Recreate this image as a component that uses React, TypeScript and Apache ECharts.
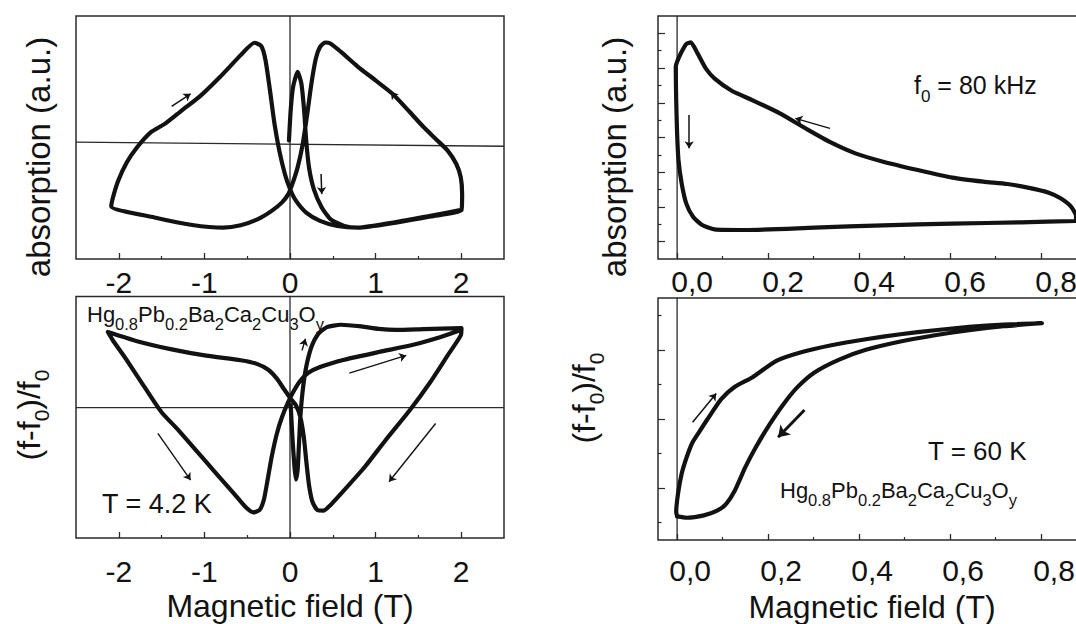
import React, { useEffect, useRef } from 'react';
import * as echarts from 'echarts';

const FONT = '"Liberation Sans", Arial, Helvetica, sans-serif';
const INK = '#121212';
const FRAME = '#2a2a2a';

// ---------- tick values ----------
const wideTicks = [-2, -1, 0, 1, 2];
const wideMinor = [-1.5, -0.5, 0.5, 1.5];
const narrowTicks = [0, 0.2, 0.4, 0.6, 0.8];
const narrowMinor = [0.1, 0.3, 0.5, 0.7, 0.9];
const trYTicks = [0, 1, 2, 3, 4, 5, 6];
const trYMinor = [0.5, 1.5, 2.5, 3.5, 4.5, 5.5];
const brYTicks = [0, 1, 2];
const brYMinor = [-0.5, 0.5, 1.5, 2.5];

// ---------- top-left: absorption (a.u.) vs field (T), T = 4.2 K ----------
const tlLoop: number[][] = [
  [-0.012, 48.8], [0.008, 61.2], [0.036, 70.8], [0.089, 77.0], [0.133, 72.2], [0.165, 61.2],
  [0.189, 48.8], [0.222, 37.7], [0.278, 28.8], [0.371, 21.2], [0.472, 16.4], [0.633, 13.6],
  [0.794, 12.9], [1.237, 15.0], [1.640, 17.5], [2.003, 20.1],
  [2.011, 26.7], [1.995, 33.6], [1.943, 39.1], [1.842, 44.6],
  [1.721, 48.8], [1.560, 54.3], [1.399, 60.5], [1.197, 68.0], [0.996, 73.6], [0.794, 79.1],
  [0.593, 85.3], [0.472, 88.7], [0.411, 89.1],
  [0.351, 87.3], [0.302, 82.5], [0.250, 72.2], [0.202, 59.8], [0.149, 47.4], [0.089, 37.7],
  [0.028, 30.9], [-0.020, 26.7], [-0.093, 23.3], [-0.214, 19.8], [-0.375, 16.4], [-0.576, 13.9],
  [-0.778, 12.9], [-1.141, 14.0], [-1.584, 17.1], [-2.088, 21.6],
  [-2.068, 25.3], [-2.007, 32.2], [-1.906, 39.8], [-1.786, 46.0], [-1.624, 52.2], [-1.463, 55.6],
  [-1.262, 61.2], [-1.060, 66.7], [-0.818, 74.9], [-0.576, 83.9], [-0.415, 89.0],
  [-0.335, 87.6], [-0.286, 81.8], [-0.234, 69.4], [-0.181, 55.6], [-0.125, 44.6], [-0.060, 35.0],
  [0.0, 28.8], [0.069, 24.0], [0.189, 19.1], [0.351, 15.7], [0.552, 13.6], [0.794, 12.9],
  [1.237, 15.2], [1.640, 17.8], [2.003, 20.2],
];
const tlZeroH: number[][] = [[-2.5, 48.1], [2.5, 46.4]];
const tlZeroV: number[][] = [[0, 0], [0, 100]];
const tlArrows: number[][][] = [
  [[-1.383, 62.8], [-1.161, 68.0]],
  [[1.318, 63.2], [1.177, 68.7]],
  [[0.363, 35.0], [0.371, 26.7]],
];

// ---------- bottom-left: (f-f0)/f0 vs field (T), T = 4.2 K ----------
const blLoop: number[][] = [
  [0.008, 55.0], [0.028, 41.9], [0.052, 29.5], [0.069, 24.2], [0.089, 28.1], [0.105, 39.1],
  [0.121, 50.1], [0.149, 61.2], [0.189, 70.8], [0.250, 79.1], [0.331, 84.6], [0.431, 87.3],
  [0.593, 88.3], [0.834, 87.6], [1.036, 86.6], [1.237, 86.2], [1.560, 86.5], [2.003, 86.9],
  [1.995, 83.9], [1.842, 75.6], [1.640, 64.6], [1.399, 52.9], [1.116, 40.5], [0.875, 29.5],
  [0.633, 19.8], [0.472, 13.6], [0.391, 11.3],
  [0.318, 11.6], [0.262, 15.0], [0.222, 21.9], [0.189, 32.2], [0.161, 41.9], [0.121, 50.1],
  [0.069, 55.0], [0.008, 57.7], [-0.073, 61.8], [-0.153, 66.0], [-0.254, 69.7], [-0.395, 72.2],
  [-0.576, 73.6], [-0.979, 75.5], [-1.382, 78.1], [-1.786, 81.5], [-2.128, 85.3],
  [-2.068, 81.8], [-1.906, 73.6], [-1.705, 62.8], [-1.503, 52.2], [-1.302, 44.6], [-1.100, 36.4],
  [-0.879, 27.4], [-0.657, 18.5], [-0.516, 12.7], [-0.427, 10.6],
  [-0.355, 11.6], [-0.306, 15.7], [-0.262, 24.0], [-0.214, 33.6], [-0.153, 43.3], [-0.093, 50.1],
  [-0.032, 55.4], [0.028, 59.8], [0.109, 64.6], [0.210, 68.3], [0.351, 70.8], [0.633, 73.8],
  [1.036, 77.0], [1.439, 80.0], [1.761, 83.2], [2.003, 86.2],
];
const blZeroH: number[][] = [[-2.5, 54.0], [2.5, 54.0]];
const blZeroV: number[][] = [[0, 0], [0, 100]];
const blArrows: number[][][] = [
  [[0.141, 77.7], [0.181, 82.5]],
  [[0.693, 68.3], [1.358, 75.6]],
  [[1.701, 47.4], [1.157, 23.3]],
  [[-1.544, 43.3], [-1.161, 24.0]],
];

// ---------- top-right: absorption (a.u.) vs field (T), f0 = 80 kHz ----------
const trLoop: number[][] = [
  [0.877, 0.595], [0.877, 0.739], [0.866, 1.008], [0.843, 1.248], [0.817, 1.411], [0.771, 1.555],
  [0.726, 1.660], [0.673, 1.727], [0.605, 1.843], [0.529, 2.063], [0.453, 2.303], [0.392, 2.543],
  [0.339, 2.850], [0.286, 3.234], [0.226, 3.695], [0.165, 4.079], [0.120, 4.347], [0.082, 4.702],
  [0.063, 4.990], [0.045, 5.422], [0.030, 5.739], [0.020, 5.691], [0.008, 5.422], [0.000, 5.182],
  [-0.003, 5.038], [-0.002, 4.079], [0.0, 3.119], [0.003, 2.351], [0.010, 1.679], [0.020, 1.104],
  [0.035, 0.720], [0.055, 0.480], [0.082, 0.355], [0.150, 0.336], [0.302, 0.403], [0.453, 0.470],
  [0.605, 0.518], [0.756, 0.557], [0.877, 0.595],
];
const trZeroV: number[][] = [[0, -0.5], [0, 6.5]];
const trArrows: number[][][] = [
  [[0.336, 3.263], [0.260, 3.551]],
  [[0.0265, 3.647], [0.0265, 2.687]],
];

// ---------- bottom-right: (f-f0)/f0 vs field (T), T = 60 K ----------
const brLoop: number[][] = [
  [0.0, -0.409], [-0.002, -0.346], [0.002, -0.082], [0.010, 0.207], [0.021, 0.447], [0.034, 0.663],
  [0.048, 0.808], [0.067, 1.0], [0.097, 1.288], [0.127, 1.466], [0.165, 1.601], [0.218, 1.841],
  [0.271, 1.962], [0.339, 2.067], [0.415, 2.154], [0.491, 2.226], [0.567, 2.284], [0.642, 2.332],
  [0.718, 2.365], [0.802, 2.385],
  [0.718, 2.341], [0.642, 2.284], [0.567, 2.212], [0.491, 2.120], [0.415, 2.0], [0.355, 1.856],
  [0.302, 1.673], [0.264, 1.457], [0.233, 1.207], [0.203, 0.918], [0.173, 0.591], [0.150, 0.303],
  [0.127, -0.034], [0.108, -0.226], [0.089, -0.322], [0.059, -0.394], [0.021, -0.428], [0.0, -0.409],
];
const brZeroV: number[][] = [[0, -0.75], [0, 2.75]];
const brArrowThin: number[][][] = [[[0.034, 0.952], [0.086, 1.370]]];
const brArrowBold: number[][][] = [[[0.280, 1.130], [0.222, 0.736]]];

const formula =
  '{m|Hg}{s|0.8}{m|Pb}{s|0.2}{m|Ba}{s|2}{m|Ca}{s|2}{m|Cu}{s|3}{m|O}{s|y}';

// main tokens hang from the line top, subscripts sit on the (taller) line bottom
function richSub(main: number, sub: number, lineH: number) {
  return {
    m: { fontSize: main, fontFamily: FONT, fill: INK, verticalAlign: 'top' },
    s: { fontSize: sub, lineHeight: lineH, fontFamily: FONT, fill: INK, verticalAlign: 'bottom' },
  };
}

function xMain(grid: number, min: number, max: number, ticks: number[], margin: number, comma: boolean, shift: number) {
  return {
    gridIndex: grid, type: 'value', min, max, position: 'bottom',
    axisLine: { show: false, onZero: false }, splitLine: { show: false },
    axisTick: { show: true, inside: true, length: 6, customValues: ticks, lineStyle: { color: FRAME, width: 1.3 } },
    axisLabel: {
      show: true, customValues: ticks, margin, color: INK, fontSize: 30, fontFamily: FONT, lineHeight: 30,
      padding: [0, 0, 0, shift],
      formatter: (v: number) => (comma ? v.toFixed(1).replace('.', ',') : String(v)),
    },
  };
}
function xMinor(grid: number, min: number, max: number, ticks: number[]) {
  return {
    gridIndex: grid, type: 'value', min, max, position: 'bottom',
    axisLine: { show: false, onZero: false }, splitLine: { show: false }, axisLabel: { show: false },
    axisTick: { show: true, inside: true, length: 3, customValues: ticks, lineStyle: { color: FRAME, width: 1.2 } },
  };
}
function yPlain(grid: number, min: number, max: number) {
  return {
    gridIndex: grid, type: 'value', min, max, position: 'left',
    axisLine: { show: false, onZero: false }, splitLine: { show: false }, axisLabel: { show: false }, axisTick: { show: false },
  };
}
function yTicks(grid: number, min: number, max: number, ticks: number[], len: number) {
  return {
    gridIndex: grid, type: 'value', min, max, position: 'left',
    axisLine: { show: false, onZero: false }, splitLine: { show: false }, axisLabel: { show: false },
    axisTick: { show: true, inside: true, length: len, customValues: ticks, lineStyle: { color: FRAME, width: 1.2 } },
  };
}

function curve(xi: number, yi: number, data: number[][]) {
  return {
    type: 'line', xAxisIndex: xi, yAxisIndex: yi, data, showSymbol: false, symbol: 'none',
    smooth: 0.2, lineStyle: { color: INK, width: 4.2, join: 'round', cap: 'round' }, z: 3,
  };
}
function refLine(xi: number, yi: number, data: number[][]) {
  return {
    type: 'line', xAxisIndex: xi, yAxisIndex: yi, data, showSymbol: false, symbol: 'none',
    lineStyle: { color: FRAME, width: 1.3 }, z: 2,
  };
}
function arrows(xi: number, yi: number, list: number[][][], width: number, size: number) {
  return {
    type: 'lines', coordinateSystem: 'cartesian2d', xAxisIndex: xi, yAxisIndex: yi,
    symbol: ['none', 'arrow'], symbolSize: size,
    lineStyle: { color: INK, width, opacity: 1, curveness: 0 },
    itemStyle: { color: INK },
    data: list.map((c) => ({ coords: c })), z: 4,
  };
}

export default function App() {
  const ref = useRef<HTMLDivElement>(null);
  useEffect(() => {
    if (!ref.current) return;
    const chart = echarts.init(ref.current, null, { renderer: 'svg' });
    const gridStyle = { show: true, borderColor: FRAME, borderWidth: 1.5, backgroundColor: 'transparent' };
    const option: any = {
      animation: false,
      backgroundColor: '#ffffff',
      grid: [
        { left: 76, top: 16, width: 428, height: 243, ...gridStyle },
        { left: 76, top: 296.5, width: 428, height: 241.5, ...gridStyle },
        { left: 658, top: 16, width: 474, height: 243, ...gridStyle },
        { left: 658, top: 298, width: 474, height: 242, ...gridStyle },
      ],
      xAxis: [
        xMain(0, -2.5, 2.5, wideTicks, 8, false, 0),
        xMinor(0, -2.5, 2.5, wideMinor),
        xMain(1, -2.5, 2.5, wideTicks, 18, false, 0),
        xMinor(1, -2.5, 2.5, wideMinor),
        xMain(2, -0.042, 1.0, narrowTicks, 7, true, 30),
        xMinor(2, -0.042, 1.0, narrowMinor),
        xMain(3, -0.042, 1.0, narrowTicks, 15, true, 26),
        xMinor(3, -0.042, 1.0, narrowMinor),
      ],
      yAxis: [
        yPlain(0, 0, 100),
        yPlain(1, 0, 100),
        yTicks(2, -0.5, 6.5, trYTicks, 7),
        yTicks(2, -0.5, 6.5, trYMinor, 3.5),
        yTicks(3, -0.75, 2.75, brYTicks, 7),
        yTicks(3, -0.75, 2.75, brYMinor, 3.5),
      ],
      series: [
        refLine(0, 0, tlZeroV), refLine(0, 0, tlZeroH), curve(0, 0, tlLoop), arrows(0, 0, tlArrows, 1.5, 7),
        refLine(2, 1, blZeroV), refLine(2, 1, blZeroH), curve(2, 1, blLoop), arrows(2, 1, blArrows, 1.4, 7),
        refLine(4, 2, trZeroV), curve(4, 2, trLoop), arrows(4, 2, trArrows, 1.5, 7),
        refLine(6, 4, brZeroV), curve(6, 4, brLoop), arrows(6, 4, brArrowThin, 1.5, 7), arrows(6, 4, brArrowBold, 3, 11),
      ],
      graphic: [
        { type: 'text', x: 38, y: 157, rotation: Math.PI / 2,
          style: { text: 'absorption (a.u.)', fontSize: 33, fontFamily: FONT, fill: INK, align: 'center', verticalAlign: 'middle' } },
        { type: 'text', x: 614, y: 157, rotation: Math.PI / 2,
          style: { text: 'absorption (a.u.)', fontSize: 33, fontFamily: FONT, fill: INK, align: 'center', verticalAlign: 'middle' } },
        { type: 'text', x: 13, y: 415, rotation: Math.PI / 2,
          style: { text: '{m|(f-f}{s|0}{m|)/f}{s|0}', rich: richSub(32, 21, 39), fontFamily: FONT, fill: INK, align: 'center', verticalAlign: 'top' } },
        { type: 'text', x: 568, y: 398, rotation: Math.PI / 2,
          style: { text: '{m|(f-f}{s|0}{m|)/f}{s|0}', rich: richSub(32, 21, 39), fontFamily: FONT, fill: INK, align: 'center', verticalAlign: 'top' } },
        { type: 'text', x: 290, y: 606,
          style: { text: 'Magnetic field (T)', fontSize: 32, fontFamily: FONT, fill: INK, align: 'center', verticalAlign: 'middle' } },
        { type: 'text', x: 872, y: 607,
          style: { text: 'Magnetic field (T)', fontSize: 32, fontFamily: FONT, fill: INK, align: 'center', verticalAlign: 'middle' } },
        { type: 'text', x: 914, y: 72,
          style: { text: '{m|f}{s|0}{m| = 80 kHz}', rich: richSub(25, 17, 33), fontFamily: FONT, fill: INK, align: 'left', verticalAlign: 'top' } },
        { type: 'text', x: 928, y: 451,
          style: { text: 'T = 60 K', fontSize: 26, fontFamily: FONT, fill: INK, align: 'left', verticalAlign: 'middle' } },
        { type: 'text', x: 780, y: 479,
          style: { text: formula, rich: richSub(22, 16.5, 29.5), fontFamily: FONT, fill: INK, align: 'left', verticalAlign: 'top' } },
        { type: 'text', x: 87, y: 303,
          style: { text: formula, rich: richSub(22, 16.5, 29.5), fontFamily: FONT, fill: INK, align: 'left', verticalAlign: 'top' } },
        { type: 'text', x: 102, y: 504,
          style: { text: 'T = 4.2 K', fontSize: 27, fontFamily: FONT, fill: INK, align: 'left', verticalAlign: 'middle' } },
      ],
    };
    chart.setOption(option);
    return () => chart.dispose();
  }, []);
  return (
    <div style={{ position: 'absolute', left: 0, top: 0, width: 1076, height: 624, overflow: 'hidden', background: '#fff' }}>
      <div ref={ref} style={{ width: 1140, height: 624 }} />
    </div>
  );
}
